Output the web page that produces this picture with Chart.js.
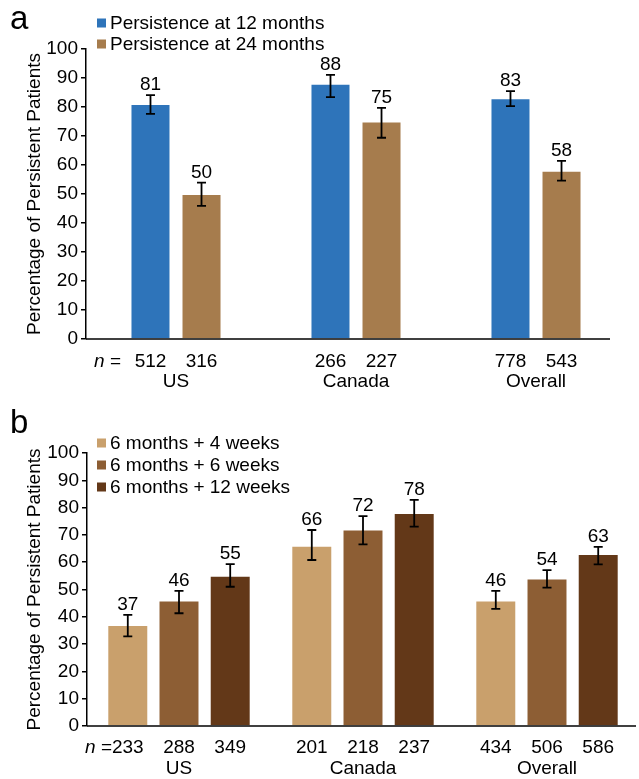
<!DOCTYPE html>
<html>
<head>
<meta charset="utf-8">
<script src="https://cdn.jsdelivr.net/npm/chart.js@4.4.0/dist/chart.umd.min.js"></script>
<style>
  body { margin: 0; background: #fff; }
  #wrap { position: relative; width: 639px; height: 779px; }
  #wrap canvas { position: absolute; left: 0; }
</style>
</head>
<body>
<div id="wrap">
  <canvas id="chartA" width="639" height="395" style="top:0"></canvas>
  <canvas id="chartB" width="639" height="384" style="top:395px"></canvas>
</div>
<script>
// shared
var categories = ['US', 'Canada', 'Overall'];
var yTitle = 'Percentage of Persistent Patients';

// panel a
var aLabels = ['Persistence at 12 months', 'Persistence at 24 months'];
var a12 = [81, 88, 83];
var a24 = [50, 75, 58];
var a12Lo = [77.6, 83.4, 80.3];
var a12Hi = [84.1, 91.1, 85.5];
var a24Lo = [45.9, 69.4, 54.6];
var a24Hi = [53.9, 79.7, 61.4];
var aN12 = [512, 266, 778];
var aN24 = [316, 227, 543];

// panel b
var bLabels = ['6 months + 4 weeks', '6 months + 6 weeks', '6 months + 12 weeks'];
var b4 = [37, 66, 46];
var b6 = [46, 72, 54];
var b12 = [55, 78, 63];
var b4Lo = [32.8, 60.8, 42.9];
var b4Hi = [40.7, 71.8, 49.5];
var b6Lo = [41.3, 66.5, 50.7];
var b6Hi = [49.5, 76.9, 57.1];
var b12Lo = [51.0, 73.0, 59.2];
var b12Hi = [59.3, 82.8, 65.6];
var bN4 = [233, 201, 434];
var bN6 = [288, 218, 506];
var bN12 = [349, 237, 586];

var FONT = 'Liberation Sans, Arial, sans-serif';
var FS = 19;

// error bars, value labels, n row, legend, panel letter
var decor = {
    id: 'decor',
    afterDatasetsDraw: function (chart, args, o) {
        var ctx = chart.ctx;
        var y = chart.scales.y;
        var area = chart.chartArea;
        ctx.save();
        ctx.fillStyle = '#000';
        ctx.strokeStyle = '#000';

        // x baseline
        ctx.lineWidth = 1.5;
        ctx.beginPath();
        ctx.moveTo(area.left, area.bottom);
        ctx.lineTo(o.baseEnd, area.bottom);
        ctx.stroke();

        chart.data.datasets.forEach(function (ds, i) {
            var meta = chart.getDatasetMeta(i);
            meta.data.forEach(function (bar, j) {
                var top = y.getPixelForValue(ds.hi[j]);
                var bot = y.getPixelForValue(ds.lo[j]);
                ctx.lineWidth = 1.8;
                ctx.beginPath();
                ctx.moveTo(bar.x, top); ctx.lineTo(bar.x, bot);
                ctx.moveTo(bar.x - 4.5, top); ctx.lineTo(bar.x + 4.5, top);
                ctx.moveTo(bar.x - 4.5, bot); ctx.lineTo(bar.x + 4.5, bot);
                ctx.stroke();

                ctx.font = FS + 'px ' + FONT;
                ctx.textAlign = 'center';
                ctx.textBaseline = 'alphabetic';
                ctx.fillText(String(ds.data[j]), bar.x, top - 5);

                ctx.textBaseline = 'middle';
                ctx.fillText(String(ds.n[j]), bar.x, o.nRow);
            });
        });

        // "n =" label
        ctx.textBaseline = 'middle';
        ctx.textAlign = 'right';
        ctx.font = FS + 'px ' + FONT;
        var eq = ' =';
        ctx.fillText(eq, o.nX, o.nRow);
        var w = ctx.measureText(eq).width;
        ctx.font = 'italic ' + FS + 'px ' + FONT;
        ctx.fillText('n', o.nX - w, o.nRow);

        // legend
        ctx.textAlign = 'left';
        ctx.font = FS + 'px ' + FONT;
        chart.data.datasets.forEach(function (ds, i) {
            var ry = o.legendRows[i];
            ctx.fillStyle = ds.backgroundColor;
            ctx.fillRect(97, ry - 4.5, 9, 9);
            ctx.fillStyle = '#000';
            ctx.fillText(ds.label, 110, ry + 1);
        });

        // panel letter
        ctx.font = '33px ' + FONT;
        ctx.textBaseline = 'alphabetic';
        ctx.fillText(o.letter, 10, o.letterY);
        ctx.restore();
    }
};

function makePanel(id, datasets, o) {
    var tickFont = { family: FONT, size: FS };
    return new Chart(document.getElementById(id), {
        type: 'bar',
        data: { labels: categories, datasets: datasets },
        options: {
            responsive: false,
            animation: false,
            layout: { padding: { top: o.top, right: o.right, left: 0, bottom: 0 } },
            datasets: { bar: { categoryPercentage: o.catPct, barPercentage: o.barPct } },
            plugins: {
                legend: { display: false },
                tooltip: { enabled: false },
                decor: o
            },
            scales: {
                x: {
                    grid: { display: false, drawTicks: false },
                    border: { display: false },
                    ticks: { color: '#000', font: tickFont, padding: o.catPad },
                    afterFit: function (s) { s.height = o.xHeight; }
                },
                y: {
                    min: 0,
                    max: 100,
                    ticks: { stepSize: 10, color: '#000', font: tickFont, padding: 3 },
                    grid: { drawOnChartArea: false, drawTicks: true, tickLength: 5, color: '#000', lineWidth: 1.5 },
                    border: { color: '#000', width: 1.5 },
                    title: {
                        display: true,
                        text: yTitle,
                        color: '#000',
                        font: tickFont,
                        padding: { top: 23, bottom: 0 }
                    },
                    afterFit: function (s) { s.width = o.yWidth; }
                }
            }
        },
        plugins: [decor]
    });
}

function series(label, data, lo, hi, n, color) {
    return {
        label: label, data: data, lo: lo, hi: hi, n: n,
        backgroundColor: color,
        borderColor: 'rgba(255,255,255,0.45)',
        borderWidth: 1
    };
}

makePanel('chartA', [
    series(aLabels[0], a12, a12Lo, a12Hi, aN12, '#2E74BA'),
    series(aLabels[1], a24, a24Lo, a24Hi, aN24, '#A67C4D')
], {
    top: 49, right: 13, xHeight: 56, yWidth: 86,
    catPct: 0.567, barPct: 0.784, catPad: 31,
    baseEnd: 610, nRow: 362, nX: 121,
    legendRows: [23, 44], letter: 'a', letterY: 29
});

makePanel('chartB', [
    series(bLabels[0], b4, b4Lo, b4Hi, bN4, '#C9A06C'),
    series(bLabels[1], b6, b6Lo, b6Hi, bN6, '#8D5E34'),
    series(bLabels[2], b12, b12Lo, b12Hi, bN12, '#633818')
], {
    top: 58, right: 0, xHeight: 53, yWidth: 87,
    catPct: 0.835, barPct: 0.80, catPad: 31,
    baseEnd: 636, nRow: 353, nX: 112,
    legendRows: [48, 70, 92], letter: 'b', letterY: 38
});
</script>
</body>
</html>
